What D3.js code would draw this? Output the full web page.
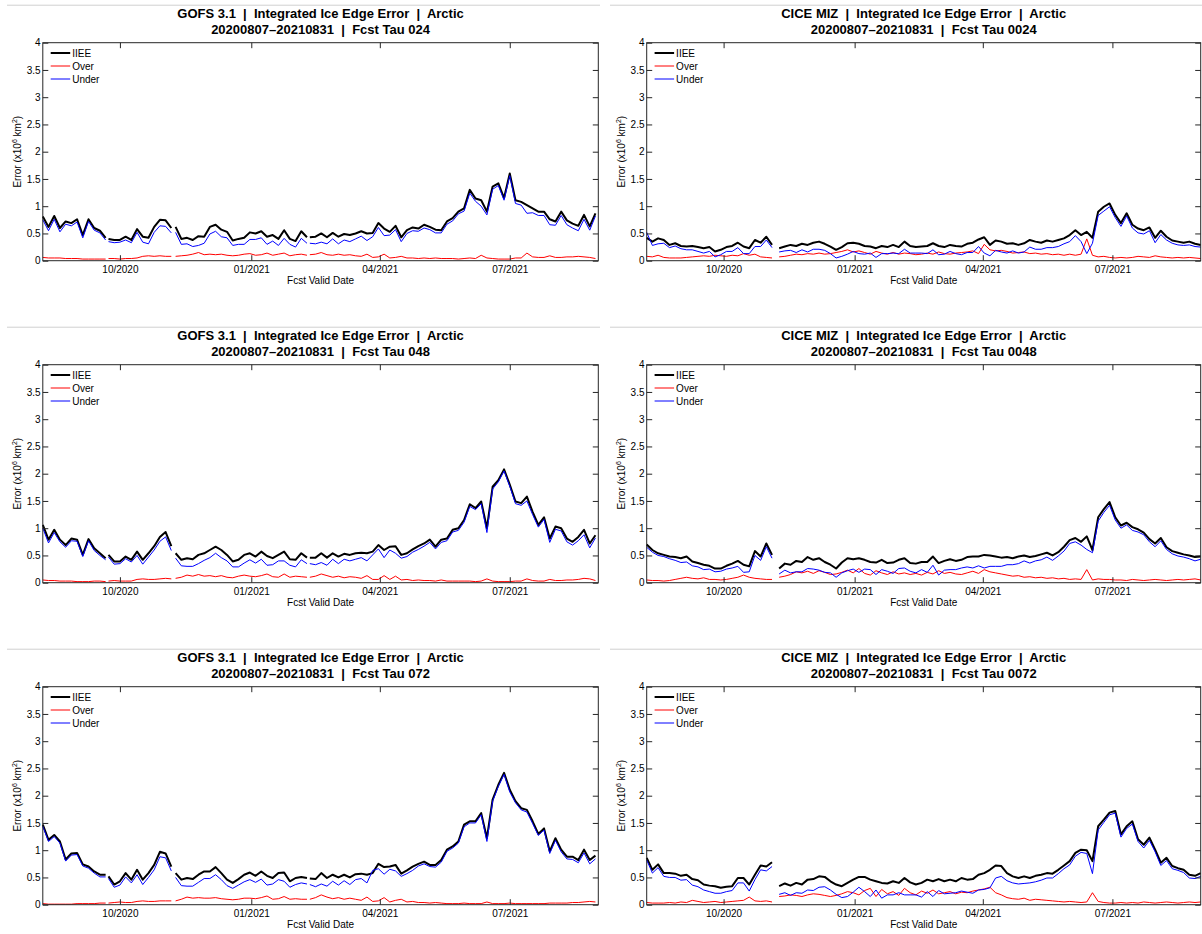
<!DOCTYPE html>
<html>
<head>
<meta charset="utf-8">
<title>Integrated Ice Edge Error - Arctic</title>
<style>
  body { margin: 0; background: #fff; }
  svg text { font-family: "Liberation Sans", Arial, Helvetica, sans-serif; fill: #000; }
  .title { white-space: pre; font-weight: bold; font-size: 13px; }
</style>
</head>
<body>
<script src="https://d3js.org/d3.v7.min.js"></script>
<svg id="chart" width="1202" height="934"></svg>
<script>
// x axis: valid dates, ticks every quarter
const xDomain = ["2020-08-08", "2021-09-01"];
const xTickDates = ["2020-10-01", "2021-01-01", "2021-04-01", "2021-07-01"];
const xTickLabels = ["10/2020", "01/2021", "04/2021", "07/2021"];
const yTicks = [0, 0.5, 1, 1.5, 2, 2.5, 3, 3.5, 4];
const legendLabels = ["IIEE", "Over", "Under"];

// values are read every 4 days; each segment = [first date, number of values]
const stepDays = 4;
const gofsSegments = [["2020-08-08", 12], ["2020-09-23", 12], ["2020-11-09", 24], ["2021-02-11", 51]];
const ciceSegments = [["2020-08-08", 23], ["2020-11-09", 75]];

// ---- GOFS 3.1, tau 024 ----
const gofs024_iiee = [0.81,0.62,0.82,0.60,0.72,0.69,0.76,0.47,0.76,0.60,0.55,0.42,
  0.40,0.38,0.38,0.44,0.38,0.58,0.44,0.42,0.62,0.75,0.74,0.60,
  0.62,0.40,0.42,0.38,0.45,0.44,0.62,0.66,0.57,0.53,0.37,0.40,0.42,0.52,0.50,0.54,0.44,0.47,0.40,0.56,0.40,0.36,0.54,0.43,
  0.43,0.44,0.50,0.43,0.51,0.44,0.49,0.47,0.50,0.54,
  0.50,0.51,0.69,0.59,0.53,0.64,0.43,0.56,0.61,0.59,
  0.66,0.62,0.57,0.56,0.72,0.78,0.90,0.96,1.30,1.14,
  1.11,0.90,1.36,1.42,1.15,1.60,1.11,1.08,1.02,0.96,
  0.90,0.90,0.76,0.72,0.90,0.74,0.68,0.64,0.84,0.63,
  0.87];
const gofs024_over = [0.06,0.05,0.05,0.05,0.04,0.04,0.04,0.03,0.03,0.03,0.03,0.03,
  0.04,0.04,0.03,0.04,0.04,0.05,0.08,0.09,0.08,0.09,0.08,0.08,
  0.08,0.09,0.10,0.12,0.15,0.11,0.12,0.11,0.12,0.10,0.09,0.10,0.12,0.13,0.10,0.11,0.14,0.10,0.12,0.14,0.09,0.11,0.12,0.10,
  0.11,0.12,0.15,0.11,0.10,0.12,0.10,0.11,0.09,0.08,
  0.12,0.06,0.07,0.12,0.05,0.06,0.08,0.05,0.05,0.04,
  0.05,0.04,0.05,0.04,0.04,0.04,0.03,0.04,0.05,0.04,
  0.10,0.05,0.04,0.03,0.03,0.03,0.05,0.05,0.14,0.07,
  0.06,0.06,0.09,0.06,0.06,0.07,0.07,0.08,0.07,0.06,
  0.04];
const gofs024_under = [0.75,0.55,0.76,0.53,0.67,0.64,0.71,0.42,0.72,0.56,0.51,0.38,
  0.35,0.33,0.34,0.38,0.33,0.52,0.34,0.31,0.52,0.64,0.63,0.51,
  0.52,0.30,0.31,0.26,0.28,0.32,0.49,0.54,0.44,0.42,0.28,0.30,0.30,0.39,0.39,0.42,0.30,0.36,0.28,0.41,0.30,0.25,0.41,0.32,
  0.32,0.31,0.34,0.31,0.40,0.31,0.38,0.35,0.40,0.45,
  0.37,0.44,0.61,0.46,0.47,0.57,0.35,0.50,0.55,0.54,
  0.60,0.57,0.51,0.51,0.67,0.73,0.86,0.91,1.24,1.09,
  1.00,0.84,1.31,1.38,1.11,1.56,1.05,1.02,0.87,0.88,
  0.83,0.83,0.66,0.65,0.83,0.66,0.60,0.55,0.76,0.56,
  0.82];

// ---- GOFS 3.1, tau 048 ----
const gofs048_iiee = [1.06,0.79,0.97,0.79,0.69,0.81,0.79,0.51,0.80,0.63,0.54,0.45,
  0.51,0.39,0.39,0.48,0.42,0.57,0.42,0.54,0.67,0.84,0.93,0.67,
  0.54,0.42,0.45,0.43,0.51,0.54,0.60,0.66,0.60,0.51,0.39,0.42,0.51,0.54,0.48,0.57,0.49,0.45,0.51,0.57,0.43,0.42,0.54,0.46,
  0.46,0.46,0.54,0.46,0.54,0.48,0.53,0.51,0.54,0.55,
  0.54,0.57,0.69,0.60,0.66,0.67,0.51,0.54,0.61,0.67,
  0.72,0.79,0.66,0.79,0.81,0.97,1.00,1.15,1.44,1.37,
  1.49,1.00,1.76,1.88,2.08,1.80,1.49,1.46,1.58,1.30,
  1.06,1.20,0.81,1.03,1.00,0.81,0.75,0.84,0.97,0.72,
  0.87];
const gofs048_over = [0.05,0.04,0.04,0.03,0.03,0.03,0.02,0.02,0.02,0.03,0.03,0.02,
  0.03,0.04,0.03,0.03,0.03,0.06,0.07,0.06,0.06,0.07,0.08,0.07,
  0.08,0.10,0.14,0.12,0.15,0.12,0.13,0.11,0.13,0.10,0.09,0.12,0.14,0.12,0.11,0.13,0.16,0.11,0.10,0.16,0.10,0.12,0.11,0.10,
  0.10,0.12,0.16,0.13,0.10,0.12,0.09,0.11,0.10,0.08,
  0.13,0.06,0.06,0.13,0.06,0.12,0.05,0.06,0.04,0.05,
  0.04,0.04,0.03,0.05,0.03,0.03,0.03,0.03,0.03,0.02,
  0.03,0.07,0.03,0.02,0.02,0.02,0.03,0.03,0.07,0.04,
  0.03,0.03,0.06,0.04,0.04,0.05,0.05,0.06,0.08,0.07,
  0.04];
const gofs048_under = [1.00,0.73,0.92,0.75,0.65,0.77,0.76,0.48,0.77,0.59,0.50,0.42,
  0.47,0.34,0.35,0.44,0.38,0.50,0.34,0.47,0.60,0.76,0.84,0.59,
  0.45,0.31,0.30,0.30,0.35,0.41,0.46,0.54,0.46,0.40,0.29,0.29,0.36,0.42,0.36,0.43,0.32,0.33,0.40,0.40,0.32,0.29,0.42,0.35,
  0.35,0.33,0.37,0.32,0.43,0.35,0.43,0.40,0.43,0.46,
  0.40,0.51,0.62,0.46,0.60,0.54,0.45,0.48,0.56,0.61,
  0.67,0.74,0.62,0.74,0.77,0.93,0.96,1.11,1.40,1.34,
  1.45,0.92,1.72,1.85,2.05,1.77,1.45,1.42,1.50,1.25,
  1.02,1.16,0.74,0.98,0.95,0.75,0.69,0.77,0.88,0.64,
  0.82];

// ---- GOFS 3.1, tau 072 ----
const gofs072_iiee = [1.47,1.19,1.28,1.16,0.83,0.94,0.95,0.74,0.70,0.61,0.55,0.55,
  0.52,0.37,0.43,0.58,0.46,0.64,0.46,0.58,0.73,0.97,0.94,0.70,
  0.58,0.46,0.49,0.47,0.55,0.61,0.61,0.69,0.58,0.46,0.40,0.47,0.55,0.59,0.53,0.61,0.53,0.49,0.58,0.59,0.43,0.49,0.51,0.49,
  0.48,0.47,0.58,0.49,0.55,0.50,0.55,0.50,0.56,0.57,
  0.55,0.58,0.75,0.69,0.70,0.73,0.57,0.63,0.70,0.75,
  0.79,0.73,0.73,0.82,1.01,1.07,1.16,1.47,1.53,1.53,
  1.68,1.22,1.93,2.20,2.42,2.11,1.90,1.77,1.74,1.53,
  1.30,1.40,0.98,1.22,1.01,0.88,0.88,0.82,1.01,0.82,
  0.90];
const gofs072_over = [0.02,0.01,0.01,0.01,0.01,0.01,0.02,0.02,0.02,0.02,0.03,0.03,
  0.03,0.04,0.05,0.04,0.04,0.06,0.07,0.06,0.06,0.07,0.07,0.07,
  0.07,0.10,0.14,0.12,0.13,0.12,0.12,0.13,0.11,0.10,0.09,0.10,0.12,0.12,0.11,0.13,0.16,0.10,0.11,0.15,0.10,0.11,0.10,0.10,
  0.10,0.13,0.18,0.14,0.11,0.13,0.10,0.12,0.10,0.08,
  0.14,0.06,0.07,0.13,0.05,0.08,0.10,0.05,0.06,0.04,
  0.04,0.03,0.04,0.03,0.02,0.02,0.02,0.03,0.02,0.02,
  0.02,0.05,0.02,0.02,0.02,0.03,0.02,0.02,0.02,0.02,
  0.02,0.02,0.03,0.03,0.03,0.03,0.04,0.04,0.05,0.06,
  0.05];
const gofs072_under = [1.44,1.16,1.25,1.13,0.80,0.91,0.92,0.71,0.67,0.58,0.51,0.51,
  0.48,0.32,0.36,0.51,0.40,0.55,0.37,0.50,0.64,0.88,0.86,0.62,
  0.50,0.35,0.34,0.34,0.41,0.48,0.48,0.55,0.46,0.35,0.30,0.36,0.42,0.46,0.41,0.47,0.36,0.38,0.46,0.43,0.32,0.37,0.40,0.38,
  0.37,0.33,0.38,0.34,0.43,0.36,0.44,0.37,0.46,0.48,
  0.40,0.63,0.66,0.56,0.65,0.62,0.52,0.57,0.63,0.71,
  0.75,0.70,0.69,0.78,0.98,1.04,1.13,1.43,1.50,1.50,
  1.65,1.16,1.90,2.17,2.39,2.07,1.87,1.74,1.70,1.49,
  1.27,1.37,0.94,1.18,0.97,0.84,0.83,0.77,0.95,0.75,
  0.84];

// ---- CICE MIZ, tau 0024 ----
const cice024_iiee = [0.42,0.35,0.41,0.38,0.29,0.32,0.27,0.26,0.27,0.25,0.23,0.25,0.17,0.20,0.25,0.27,0.33,0.26,0.23,0.38,0.33,0.44,0.29,
  0.23,0.26,0.29,0.27,0.31,0.29,0.33,0.35,0.31,0.26,
  0.20,0.25,0.32,0.33,0.31,0.27,0.26,0.23,0.27,0.25,
  0.29,0.25,0.35,0.27,0.25,0.26,0.27,0.32,0.27,0.25,
  0.29,0.27,0.26,0.31,0.33,0.39,0.43,0.29,0.37,0.35,
  0.31,0.32,0.29,0.32,0.38,0.35,0.33,0.37,0.35,0.38,
  0.41,0.47,0.56,0.47,0.53,0.42,0.90,0.99,1.05,0.84,
  0.69,0.87,0.66,0.59,0.56,0.61,0.42,0.55,0.44,0.37,
  0.35,0.33,0.35,0.31,0.29];
const cice024_over = [0.08,0.07,0.10,0.06,0.05,0.05,0.05,0.06,0.07,0.08,0.09,0.08,0.10,0.09,0.08,0.10,0.09,0.13,0.10,0.12,0.07,0.06,0.05,
  0.07,0.08,0.10,0.12,0.11,0.13,0.12,0.14,0.12,0.13,
  0.15,0.17,0.20,0.16,0.18,0.15,0.12,0.17,0.14,0.12,
  0.15,0.12,0.14,0.13,0.11,0.12,0.14,0.12,0.16,0.13,
  0.12,0.14,0.15,0.16,0.18,0.13,0.30,0.20,0.18,0.19,
  0.17,0.14,0.15,0.16,0.13,0.14,0.12,0.13,0.11,0.12,
  0.10,0.12,0.10,0.12,0.40,0.10,0.07,0.08,0.06,0.05,
  0.06,0.05,0.06,0.08,0.07,0.06,0.09,0.07,0.06,0.05,
  0.06,0.05,0.06,0.05,0.04];
const cice024_under = [0.52,0.28,0.31,0.32,0.24,0.27,0.22,0.20,0.20,0.17,0.14,0.17,0.07,0.11,0.17,0.17,0.24,0.13,0.13,0.26,0.26,0.38,0.24,
  0.16,0.18,0.19,0.15,0.20,0.16,0.21,0.21,0.19,0.13,
  0.05,0.08,0.12,0.17,0.13,0.12,0.14,0.06,0.13,0.13,
  0.14,0.13,0.21,0.14,0.14,0.14,0.13,0.20,0.11,0.12,
  0.17,0.13,0.11,0.15,0.15,0.26,0.14,0.09,0.19,0.16,
  0.14,0.18,0.14,0.16,0.25,0.21,0.21,0.24,0.24,0.26,
  0.31,0.35,0.46,0.35,0.13,0.32,0.83,0.91,0.99,0.79,
  0.63,0.82,0.60,0.51,0.49,0.55,0.33,0.48,0.38,0.32,
  0.29,0.28,0.29,0.26,0.25];

// ---- CICE MIZ, tau 0048 ----
const cice048_iiee = [0.70,0.60,0.54,0.51,0.48,0.47,0.45,0.48,0.39,0.36,0.33,0.31,0.26,0.26,0.31,0.35,0.40,0.33,0.30,0.58,0.48,0.72,0.51,
  0.26,0.35,0.33,0.40,0.38,0.47,0.42,0.45,0.38,0.33,
  0.26,0.37,0.45,0.43,0.45,0.42,0.38,0.37,0.42,0.36,
  0.37,0.42,0.45,0.36,0.35,0.38,0.38,0.48,0.36,0.40,
  0.43,0.40,0.42,0.47,0.48,0.48,0.51,0.50,0.48,0.46,
  0.47,0.45,0.48,0.50,0.47,0.49,0.52,0.55,0.50,0.56,
  0.66,0.78,0.82,0.75,0.85,0.60,1.20,1.35,1.48,1.20,
  1.05,1.10,1.02,0.98,0.92,0.80,0.72,0.82,0.65,0.58,
  0.55,0.52,0.50,0.47,0.48];
const cice048_over = [0.05,0.04,0.04,0.03,0.04,0.06,0.08,0.10,0.08,0.07,0.09,0.06,0.06,0.05,0.06,0.08,0.10,0.14,0.10,0.08,0.07,0.06,0.06,
  0.10,0.12,0.15,0.20,0.18,0.21,0.17,0.22,0.19,0.15,
  0.16,0.19,0.23,0.18,0.26,0.17,0.14,0.22,0.18,0.15,
  0.20,0.16,0.18,0.15,0.17,0.14,0.19,0.16,0.22,0.17,
  0.19,0.16,0.15,0.18,0.21,0.17,0.24,0.20,0.18,0.16,
  0.14,0.12,0.13,0.10,0.11,0.09,0.10,0.08,0.09,0.07,
  0.08,0.06,0.07,0.06,0.24,0.05,0.07,0.06,0.06,0.05,
  0.05,0.04,0.06,0.05,0.04,0.05,0.06,0.05,0.04,0.05,
  0.06,0.05,0.06,0.07,0.05];
const cice048_under = [0.65,0.56,0.50,0.48,0.44,0.41,0.37,0.38,0.31,0.29,0.24,0.25,0.20,0.21,0.25,0.27,0.30,0.19,0.20,0.50,0.41,0.66,0.45,
  0.16,0.23,0.18,0.20,0.20,0.26,0.25,0.23,0.19,0.18,
  0.10,0.18,0.22,0.25,0.19,0.25,0.24,0.15,0.24,0.21,
  0.17,0.26,0.27,0.21,0.18,0.24,0.19,0.32,0.14,0.23,
  0.24,0.24,0.27,0.29,0.27,0.31,0.27,0.30,0.30,0.30,
  0.33,0.33,0.35,0.40,0.36,0.40,0.42,0.47,0.41,0.49,
  0.58,0.72,0.75,0.69,0.61,0.55,1.13,1.29,1.42,1.15,
  1.00,1.06,0.96,0.93,0.88,0.75,0.66,0.77,0.61,0.53,
  0.49,0.47,0.44,0.40,0.43];

// ---- CICE MIZ, tau 0072 ----
const cice072_iiee = [0.86,0.64,0.74,0.58,0.58,0.57,0.53,0.55,0.47,0.45,0.37,0.35,0.34,0.31,0.33,0.34,0.49,0.49,0.37,0.55,0.72,0.70,0.78,
  0.34,0.39,0.35,0.40,0.37,0.46,0.47,0.52,0.51,0.43,
  0.37,0.34,0.40,0.46,0.51,0.51,0.46,0.43,0.40,0.39,
  0.43,0.40,0.49,0.41,0.37,0.40,0.46,0.43,0.47,0.43,
  0.46,0.43,0.49,0.46,0.47,0.55,0.58,0.64,0.72,0.71,
  0.58,0.52,0.49,0.52,0.49,0.53,0.55,0.58,0.57,0.64,
  0.72,0.80,0.95,1.01,1.00,0.80,1.44,1.56,1.69,1.72,
  1.29,1.44,1.53,1.20,1.10,1.23,1.01,0.77,0.86,0.71,
  0.67,0.64,0.55,0.53,0.58];
const cice072_over = [0.04,0.03,0.03,0.03,0.04,0.03,0.05,0.04,0.08,0.06,0.04,0.05,0.06,0.04,0.05,0.06,0.07,0.08,0.14,0.07,0.06,0.07,0.05,
  0.15,0.16,0.18,0.17,0.15,0.18,0.20,0.19,0.17,0.15,
  0.17,0.20,0.24,0.22,0.18,0.26,0.30,0.15,0.28,0.20,
  0.24,0.17,0.30,0.22,0.18,0.25,0.21,0.27,0.20,0.22,
  0.24,0.20,0.23,0.22,0.25,0.27,0.29,0.32,0.22,0.18,
  0.13,0.11,0.10,0.12,0.08,0.10,0.09,0.08,0.07,0.06,
  0.05,0.06,0.05,0.04,0.05,0.22,0.06,0.04,0.03,0.03,
  0.04,0.03,0.04,0.03,0.05,0.04,0.03,0.04,0.05,0.04,
  0.03,0.04,0.05,0.04,0.05];
const cice072_under = [0.82,0.58,0.68,0.52,0.50,0.50,0.45,0.46,0.36,0.33,0.27,0.24,0.21,0.21,0.24,0.26,0.40,0.40,0.25,0.46,0.64,0.62,0.70,
  0.19,0.22,0.17,0.22,0.21,0.27,0.26,0.32,0.33,0.27,
  0.19,0.13,0.15,0.23,0.32,0.24,0.15,0.27,0.12,0.18,
  0.18,0.22,0.18,0.18,0.18,0.14,0.24,0.15,0.26,0.20,
  0.21,0.22,0.25,0.23,0.21,0.27,0.28,0.31,0.49,0.52,
  0.44,0.40,0.38,0.39,0.40,0.42,0.45,0.49,0.49,0.57,
  0.66,0.73,0.89,0.96,0.94,0.57,1.37,1.51,1.65,1.68,
  1.24,1.40,1.48,1.16,1.04,1.18,0.97,0.72,0.81,0.66,
  0.63,0.59,0.49,0.48,0.52];

const panels = [
  {col: 0, row: 0, model: "GOFS 3.1", tau: "024",  segs: gofsSegments, iiee: gofs024_iiee, over: gofs024_over, under: gofs024_under},
  {col: 0, row: 1, model: "GOFS 3.1", tau: "048",  segs: gofsSegments, iiee: gofs048_iiee, over: gofs048_over, under: gofs048_under},
  {col: 0, row: 2, model: "GOFS 3.1", tau: "072",  segs: gofsSegments, iiee: gofs072_iiee, over: gofs072_over, under: gofs072_under},
  {col: 1, row: 0, model: "CICE MIZ", tau: "0024", segs: ciceSegments, iiee: cice024_iiee, over: cice024_over, under: cice024_under},
  {col: 1, row: 1, model: "CICE MIZ", tau: "0048", segs: ciceSegments, iiee: cice048_iiee, over: cice048_over, under: cice048_under},
  {col: 1, row: 2, model: "CICE MIZ", tau: "0072", segs: ciceSegments, iiee: cice072_iiee, over: cice072_over, under: cice072_under}
];

// layout
const colLeft = [42.8, 646.7], colWidth = [555.5, 554];
const rowTop = [42.7, 364.7, 686.7], plotH = 218;
const axisColor = "#262626";
const tickLen = 5.5;
const styles = [
  {key: "iiee",  color: "#000000", width: 2},
  {key: "over",  color: "#ff0000", width: 1},
  {key: "under", color: "#0000ff", width: 1}
];

const parse = d3.utcParse("%Y-%m-%d");
const svg = d3.select("#chart");

function segmentsOf(segs, vals) {
  const out = [];
  let i = 0;
  segs.forEach(([start, n]) => {
    const t0 = parse(start);
    const seg = [];
    for (let k = 0; k < n; k++, i++) {
      if (vals[i] != null) seg.push([d3.utcDay.offset(t0, k * stepDays), vals[i]]);
    }
    out.push(seg);
  });
  return out;
}

panels.forEach(p => {
  const left = colLeft[p.col], top = rowTop[p.row], w = colWidth[p.col];
  const x = d3.scaleUtc().domain(xDomain.map(parse)).range([0, w]);
  const y = d3.scaleLinear().domain([0, 4]).range([plotH, 0]);
  const cx = left + w / 2;

  // light separator line above each panel
  svg.append("line")
    .attr("x1", p.col === 0 ? 7 : 610).attr("x2", p.col === 0 ? 600 : 1202)
    .attr("y1", top - 37.5).attr("y2", top - 37.5)
    .attr("stroke", "#d0d0d0").attr("stroke-width", 1);

  svg.append("text").attr("class", "title")
    .attr("x", cx).attr("y", top - 24.5).attr("text-anchor", "middle")
    .text(`${p.model}  |  Integrated Ice Edge Error  |  Arctic`);
  svg.append("text").attr("class", "title")
    .attr("x", cx).attr("y", top - 8.5).attr("text-anchor", "middle")
    .text(`20200807\u201320210831  |  Fcst Tau ${p.tau}`);

  const g = svg.append("g").attr("transform", `translate(${left},${top})`);

  // series
  const line = d3.line().x(d => x(d[0])).y(d => y(d[1]));
  styles.forEach(s => {
    segmentsOf(p.segs, p[s.key]).forEach(seg => {
      g.append("path").datum(seg)
        .attr("d", line)
        .attr("fill", "none")
        .attr("stroke", s.color)
        .attr("stroke-width", s.width)
        .attr("stroke-linejoin", "round");
    });
  });

  // axes, ticks pointing inwards on all four sides
  const tickDates = xTickDates.map(parse);
  const fmtX = d => xTickLabels[tickDates.findIndex(t => +t === +d)];
  const axes = [
    d3.axisBottom(x).tickValues(tickDates).tickFormat(fmtX).tickSizeInner(-tickLen).tickSizeOuter(0).tickPadding(5),
    d3.axisTop(x).tickValues(tickDates).tickFormat("").tickSizeInner(-tickLen).tickSizeOuter(0),
    d3.axisLeft(y).tickValues(yTicks).tickFormat(d3.format("~g")).tickSizeInner(-tickLen).tickSizeOuter(0).tickPadding(2.2),
    d3.axisRight(y).tickValues(yTicks).tickFormat("").tickSizeInner(-tickLen).tickSizeOuter(0)
  ];
  const shifts = [`translate(0,${plotH})`, "translate(0,0)", "translate(0,0)", `translate(${w},0)`];
  axes.forEach((a, i) => {
    const ag = g.append("g").attr("transform", shifts[i]).call(a)
      .attr("font-family", null).attr("font-size", 10).style("color", axisColor);
    ag.select(".domain").remove();
    ag.selectAll("text").attr("fill", "#000");
  });
  g.append("rect").attr("width", w).attr("height", plotH)
    .attr("fill", "none").attr("stroke", axisColor).attr("stroke-width", 1);

  // axis labels
  g.append("text").attr("x", w / 2).attr("y", plotH + 23.5)
    .attr("text-anchor", "middle").attr("font-size", 10).text("Fcst Valid Date");
  const yl = svg.append("text")
    .attr("transform", `translate(${left - 22},${top + plotH / 2}) rotate(-90)`)
    .attr("text-anchor", "middle").attr("font-size", 10);
  yl.append("tspan").text("Error (x10");
  yl.append("tspan").attr("font-size", 7).attr("dy", -4).text("6");
  yl.append("tspan").attr("dy", 4).text(" km");
  yl.append("tspan").attr("font-size", 7).attr("dy", -4).text("2");
  yl.append("tspan").attr("dy", 4).text(")");

  // legend
  const lg = g.append("g").attr("transform", "translate(7.9,10.3)");
  styles.forEach((s, i) => {
    lg.append("line").attr("x1", 0).attr("x2", 19.5)
      .attr("y1", i * 13).attr("y2", i * 13)
      .attr("stroke", s.color).attr("stroke-width", s.width);
    lg.append("text").attr("x", 21.5).attr("y", i * 13 + 3.6)
      .attr("font-size", 10).text(legendLabels[i]);
  });
});
</script>
</body>
</html>
